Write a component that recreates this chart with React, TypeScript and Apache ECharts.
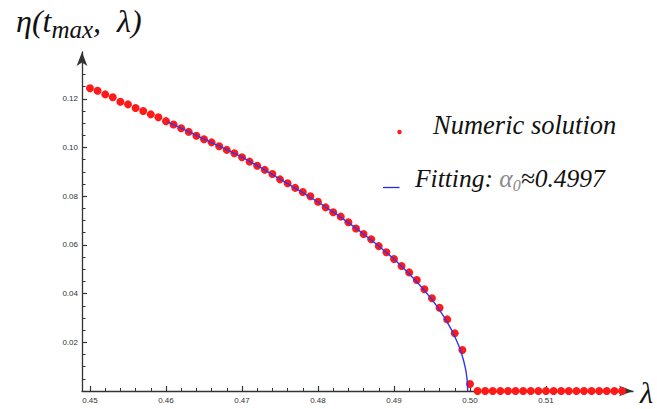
import React, { useEffect, useRef } from "react";
import * as echarts from "echarts";

// λ values of the numeric solution
const lambdaNumeric = [
  0.450, 0.451, 0.452, 0.453, 0.454, 0.455, 0.456, 0.457, 0.458, 0.459,
  0.460, 0.461, 0.462, 0.463, 0.464, 0.465, 0.466, 0.467, 0.468, 0.469,
  0.470, 0.471, 0.472, 0.473, 0.474, 0.475, 0.476, 0.477, 0.478, 0.479,
  0.480, 0.481, 0.482, 0.483, 0.484, 0.485, 0.486, 0.487, 0.488, 0.489,
  0.490, 0.491, 0.492, 0.493, 0.494, 0.495, 0.496, 0.497, 0.498, 0.499,
  0.500, 0.501, 0.502, 0.503, 0.504, 0.505, 0.506, 0.507, 0.508, 0.509,
  0.510, 0.511, 0.512, 0.513, 0.514, 0.515, 0.516, 0.517, 0.518, 0.519,
  0.520,
];
// η(t_max, λ) numeric values
const etaNumeric = [
  0.1243, 0.1233, 0.1218, 0.1206, 0.1188, 0.1177, 0.1162, 0.115, 0.1136, 0.1124,
  0.1108, 0.1094, 0.1079, 0.1064, 0.1048, 0.1034, 0.1021, 0.1005, 0.099, 0.0976,
  0.096, 0.0942, 0.0925, 0.0908, 0.0891, 0.0869, 0.0853, 0.0834, 0.0817, 0.08,
  0.0777, 0.0754, 0.0734, 0.0716, 0.0693, 0.0667, 0.0645, 0.0623, 0.0595, 0.057,
  0.0542, 0.0513, 0.0487, 0.0456, 0.0418, 0.0381, 0.0342, 0.0294, 0.0237, 0.0168,
  0.0029, 0, 0, 0, 0, 0, 0, 0, 0, 0,
  0, 0, 0, 0, 0, 0, 0, 0, 0, 0,
  0,
];
// fitting curve
const lambdaFit = [
  0.4602, 0.4625, 0.465, 0.4675, 0.47, 0.4725, 0.475, 0.4775, 0.48, 0.4825,
  0.485, 0.4875, 0.49, 0.4915, 0.493, 0.494, 0.495, 0.496, 0.4968, 0.4975,
  0.498, 0.4985, 0.4989, 0.4992, 0.4994, 0.4995, 0.4996, 0.49965, 0.4997,
];
const etaFit = [
  0.1105, 0.1072, 0.1034, 0.0998, 0.096, 0.0917, 0.087, 0.0824, 0.0776, 0.0724,
  0.0669, 0.0608, 0.0542, 0.0497, 0.0449, 0.0413, 0.0376, 0.0332, 0.0294, 0.0255,
  0.0224, 0.0188, 0.0153, 0.012, 0.0093, 0.0076, 0.0053, 0.0037, 0,
];
// ticks
const xMajorTicks = [0.45, 0.46, 0.47, 0.48, 0.49, 0.5, 0.51];
const xMinorTicks = [
  0.452, 0.454, 0.456, 0.458, 0.462, 0.464, 0.466, 0.468, 0.472, 0.474, 0.476, 0.478,
  0.482, 0.484, 0.486, 0.488, 0.492, 0.494, 0.496, 0.498, 0.502, 0.504, 0.506, 0.508,
  0.512, 0.514, 0.516, 0.518,
];
const yMajorTicks = [0.02, 0.04, 0.06, 0.08, 0.1, 0.12];
const yMinorTicks = [
  0.005, 0.01, 0.015, 0.025, 0.03, 0.035, 0.045, 0.05, 0.055, 0.065, 0.07, 0.075,
  0.085, 0.09, 0.095, 0.105, 0.11, 0.115, 0.125, 0.13,
];

const X_MIN = 0.44895;
const X_MAX = 0.52145;
const Y_MIN = 0;
const Y_MAX = 0.1392;

const AXIS_COLOR = "#333333";
const SERIF = "Liberation Serif";

export default function App() {
  const ref = useRef<HTMLDivElement>(null);

  useEffect(() => {
    document.body.style.margin = "0";
    if (!ref.current) return;
    const chart = echarts.init(ref.current, null, { renderer: "svg" });

    const axisCommon = {
      type: "value" as const,
      splitLine: { show: false },
    };

    chart.setOption({
      animation: false,
      backgroundColor: "#ffffff",
      grid: { left: 82, right: 24, top: 52, bottom: 18, containLabel: false },
      xAxis: [
        {
          ...axisCommon,
          min: X_MIN,
          max: X_MAX,
          position: "bottom",
          axisLine: {
            show: true,
            symbol: ["none", "arrow"],
            symbolSize: [8, 14],
            lineStyle: { color: AXIS_COLOR, width: 1.3 },
          },
          axisTick: {
            show: true,
            inside: true,
            length: 5,
            customValues: xMajorTicks,
            lineStyle: { color: AXIS_COLOR, width: 1.2 },
          },
          axisLabel: {
            show: true,
            customValues: xMajorTicks,
            formatter: (v: number) => v.toFixed(2),
            margin: 5,
            fontSize: 8,
            color: "#333",
            fontFamily: "Liberation Sans",
          },
        },
        {
          ...axisCommon,
          min: X_MIN,
          max: X_MAX,
          position: "bottom",
          axisLine: { show: false },
          axisTick: {
            show: true,
            inside: true,
            length: 3,
            customValues: xMinorTicks,
            lineStyle: { color: AXIS_COLOR, width: 1 },
          },
          axisLabel: { show: false },
        },
      ],
      yAxis: [
        {
          ...axisCommon,
          min: Y_MIN,
          max: Y_MAX,
          position: "left",
          axisLine: {
            show: true,
            symbol: ["none", "arrow"],
            symbolSize: [8, 14],
            lineStyle: { color: AXIS_COLOR, width: 1.3 },
          },
          axisTick: {
            show: true,
            inside: true,
            length: 5,
            customValues: yMajorTicks,
            lineStyle: { color: AXIS_COLOR, width: 1.2 },
          },
          axisLabel: {
            show: true,
            customValues: yMajorTicks,
            formatter: (v: number) => v.toFixed(2),
            margin: 4,
            fontSize: 8,
            color: "#333",
            fontFamily: "Liberation Sans",
          },
        },
        {
          ...axisCommon,
          min: Y_MIN,
          max: Y_MAX,
          position: "left",
          axisLine: { show: false },
          axisTick: {
            show: true,
            inside: true,
            length: 3.5,
            customValues: yMinorTicks,
            lineStyle: { color: AXIS_COLOR, width: 1 },
          },
          axisLabel: { show: false },
        },
      ],
      series: [
        {
          name: "Numeric solution",
          type: "scatter",
          xAxisIndex: 0,
          yAxisIndex: 0,
          symbol: "circle",
          symbolSize: 8,
          itemStyle: { color: "#ff1a1a", opacity: 1 },
          data: lambdaNumeric.map((x, i) => [x, etaNumeric[i]]),
          z: 2,
        },
        {
          name: "Fitting",
          type: "line",
          xAxisIndex: 0,
          yAxisIndex: 0,
          showSymbol: false,
          symbol: "none",
          smooth: false,
          lineStyle: { color: "#3535e8", width: 1.4 },
          data: lambdaFit.map((x, i) => [x, etaFit[i]]),
          z: 3,
        },
      ],
      graphic: [
        {
          type: "text",
          left: 16,
          top: 5,
          style: {
            text: "{a|η(t}{s|max}{a|,  λ)}",
            rich: {
              a: { fontSize: 32, lineHeight: 38, fontStyle: "italic", fontFamily: SERIF, fill: "#111" },
              s: {
                fontSize: 25,
                fontStyle: "italic",
                fontFamily: SERIF,
                fill: "#111",
                verticalAlign: "top",
                padding: [16, 0, 0, 0],
              },
            },
          },
        },
        {
          type: "text",
          left: 640,
          top: 377,
          style: {
            text: "λ",
            fontSize: 30,
            fontStyle: "italic",
            fontFamily: SERIF,
            fill: "#111",
          },
        },
        {
          type: "circle",
          shape: { cx: 399.5, cy: 132, r: 2.2 },
          style: { fill: "#ff1a1a" },
        },
        {
          type: "text",
          left: 433,
          top: 111,
          style: {
            text: "Numeric solution",
            fontSize: 26.5,
            fontStyle: "italic",
            fontFamily: SERIF,
            fill: "#111",
          },
        },
        {
          type: "line",
          shape: { x1: 383, y1: 187.5, x2: 399.5, y2: 187.5 },
          style: { stroke: "#2a2ad0", lineWidth: 1.3 },
        },
        {
          type: "text",
          left: 415,
          top: 165,
          style: {
            text: "{f|Fitting: }{g|α}{z|0}{f|≈0.4997}",
            rich: {
              f: { fontSize: 25.5, lineHeight: 30, fontStyle: "italic", fontFamily: SERIF, fill: "#111" },
              g: { fontSize: 25.5, lineHeight: 30, fontStyle: "italic", fontFamily: SERIF, fill: "#8a8a8a" },
              z: {
                fontSize: 16,
                fontStyle: "italic",
                fontFamily: SERIF,
                fill: "#8a8a8a",
                verticalAlign: "top",
                padding: [15, 0, 0, 0],
              },
            },
          },
        },
      ],
    });

    return () => chart.dispose();
  }, []);

  return <div ref={ref} style={{ width: 657, height: 409 }} />;
}
